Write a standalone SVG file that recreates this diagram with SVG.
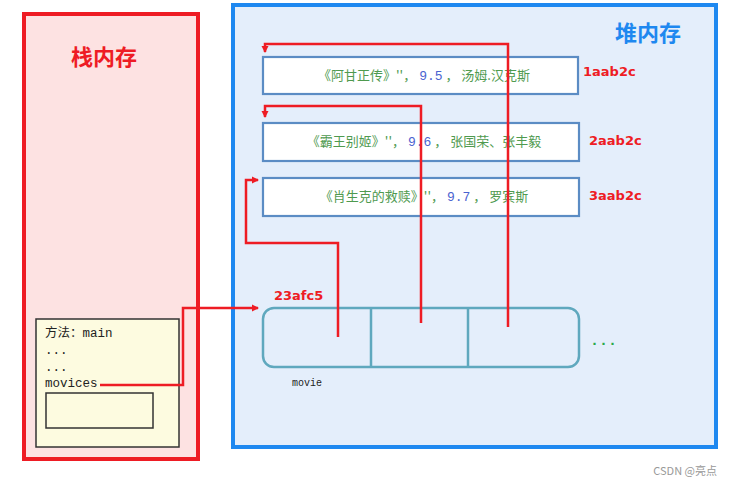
<svg xmlns="http://www.w3.org/2000/svg" width="750" height="496" viewBox="0 0 750 496">
<style>
.cn{font-family:"Noto Sans CJK SC","Noto Sans",sans-serif}
.mono{font-family:"Liberation Mono","DejaVu Sans Mono",monospace}
.obj{fill:#fff;stroke:#5b8cc4;stroke-width:2.2}
.g{fill:#4f9a4f}
.b{fill:#4a63d0}
.addr{font-family:"DejaVu Sans","Noto Sans",sans-serif;font-weight:bold;font-size:13px;fill:#ee1c24}
.wire{fill:none;stroke:#ee1c24;stroke-width:2.5}
.title{font-family:"Noto Sans CJK SC",sans-serif;font-weight:bold;font-size:22px}
</style>
<defs>
<marker id="arr" markerWidth="8" markerHeight="8" refX="6" refY="4" orient="auto" markerUnits="userSpaceOnUse">
<path d="M0,0.5 L7,4 L0,7.5 Z" fill="#ee1c24"/>
</marker>
</defs>
<rect width="750" height="496" fill="#fff"/>
<g id="stack">
<rect x="24" y="14" width="174" height="445" fill="#fde2e2" stroke="#ee1c24" stroke-width="4"/>
<text x="104" y="65" class="title" fill="#ee1c24" text-anchor="middle">栈内存</text>
</g>
<g id="heap">
<rect x="233" y="5" width="483" height="442" fill="#e4eefb" stroke="#1e88f0" stroke-width="4"/>
<text x="648" y="41" class="title" fill="#1e88f0" text-anchor="middle">堆内存</text>
</g>
<g id="frame">
<rect x="36" y="319" width="143" height="128" fill="#fdfbe0" stroke="#333" stroke-width="1.5"/>
<text x="45" y="337" font-size="12.5" fill="#222"><tspan class="cn">方法：</tspan><tspan class="mono">main</tspan></text>
<text x="45" y="354" class="mono" font-size="12.5" fill="#222">...</text>
<text x="45" y="371" class="mono" font-size="12.5" fill="#222">...</text>
<text x="45" y="387" class="mono" font-size="12.5" fill="#222">movices</text>
<rect x="46" y="393" width="107" height="35" fill="#fdfbe0" stroke="#333" stroke-width="1.5"/>
</g>
<g id="movie1">
<rect class="obj" x="263" y="57" width="315" height="37"/>
<text x="424" y="80" text-anchor="middle" font-size="13" xml:space="preserve"><tspan class="cn g">《阿甘正传》''， </tspan><tspan class="mono b">9.5</tspan><tspan class="cn g"> ， 汤姆.汉克斯</tspan></text>
<text x="583" y="76" class="addr">1aab2c</text>
</g>
<g id="movie2">
<rect class="obj" x="263" y="123" width="316" height="38"/>
<text x="424" y="146" text-anchor="middle" font-size="13" xml:space="preserve"><tspan class="cn g">《霸王别姬》''， </tspan><tspan class="mono b">9.6</tspan><tspan class="cn g"> ， 张国荣、张丰毅</tspan></text>
<text x="589" y="145" class="addr">2aab2c</text>
</g>
<g id="movie3">
<rect class="obj" x="263" y="178" width="316" height="38"/>
<text x="424" y="201" text-anchor="middle" font-size="13" xml:space="preserve"><tspan class="cn g">《肖生克的救赎》''， </tspan><tspan class="mono b">9.7</tspan><tspan class="cn g"> ， 罗宾斯</tspan></text>
<text x="589" y="200" class="addr">3aab2c</text>
</g>
<g id="array">
<rect x="263" y="308" width="316" height="59" rx="11" fill="#e4eefb" stroke="#5fa8be" stroke-width="2.5"/>
<line x1="371" y1="308" x2="371" y2="367" stroke="#5fa8be" stroke-width="2.5"/>
<line x1="468" y1="308" x2="468" y2="367" stroke="#5fa8be" stroke-width="2.5"/>
<text x="274" y="300" class="addr">23afc5</text>
<text x="292" y="386" class="mono" font-size="10" fill="#222">movie</text>
<text x="590" y="345" class="mono" font-size="15" font-weight="bold" fill="#2aa84a">...</text>
</g>
<g id="connectors">
<path class="wire" d="M100,385 H183 V308 H258" marker-end="url(#arr)"/>
<path class="wire" d="M338,337 V243 H246 V180 H258" marker-end="url(#arr)"/>
<path class="wire" d="M421,323 V106 H265 V117" marker-end="url(#arr)"/>
<path class="wire" d="M508,327 V44 H265 V52" marker-end="url(#arr)"/>
</g>
<text x="717" y="475" text-anchor="end" font-family="'Noto Sans CJK SC',sans-serif" font-size="11" fill="#999">CSDN @亮点</text>
</svg>
